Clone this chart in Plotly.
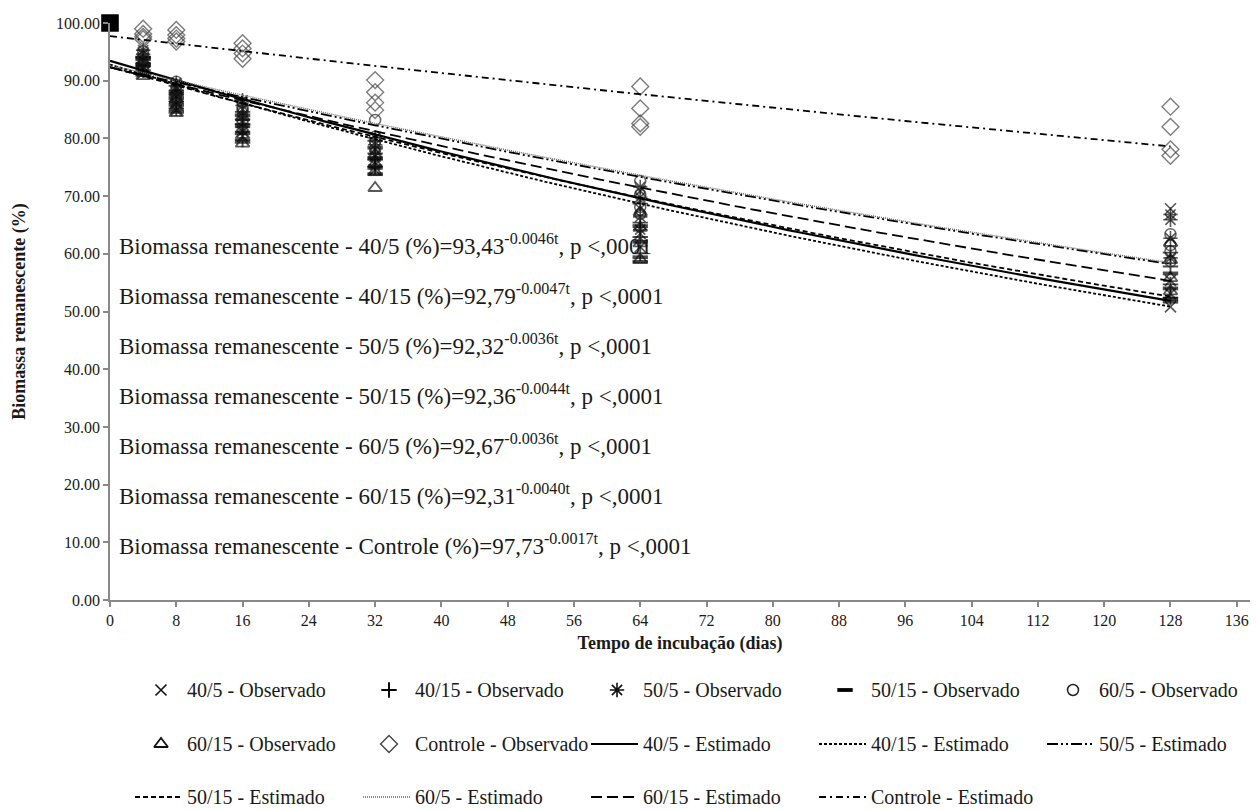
import numpy as np
import plotly.graph_objects as go

# Sampling days
dias = [0, 4, 8, 16, 32, 64, 128]

# Observed remaining biomass (%), four replicates per sampling day
obs_40_5 = [[100, 100, 100, 100], [92.1, 93.4, 94.8, 91.3], [86.0, 88.7, 84.9, 87.3],
            [81.2, 83.9, 85.1, 80.4], [75.8, 78.2, 76.9, 74.6], [63.5, 67.8, 70.9, 61.2],
            [50.8, 67.8, 55.4, 53.1]]
obs_40_15 = [[100, 100, 100, 100], [93.0, 91.8, 94.1, 92.6], [87.6, 85.2, 89.1, 86.4],
             [82.5, 84.6, 79.8, 83.3], [77.4, 75.1, 79.6, 76.3], [65.4, 60.1, 68.7, 62.9],
             [52.4, 54.7, 60.2, 57.8]]
obs_50_5 = [[100, 100, 100, 100], [94.6, 93.1, 95.3, 92.4], [89.6, 87.9, 86.2, 88.4],
            [85.7, 83.1, 86.6, 81.9], [78.9, 80.1, 77.2, 75.4], [69.8, 66.4, 71.6, 64.2],
            [65.9, 62.7, 59.3, 66.8]]
obs_50_15 = [[100, 100, 100, 100], [92.8, 91.0, 93.7, 94.0], [85.8, 87.0, 84.6, 88.1],
             [80.9, 82.2, 84.0, 79.4], [74.9, 76.6, 78.4, 73.8], [59.4, 62.1, 64.8, 58.6],
             [54.0, 52.2, 56.6, 51.7]]
obs_60_5 = [[100, 100, 100, 100], [93.9, 95.1, 92.2, 94.4], [88.9, 86.7, 89.8, 87.7],
            [84.9, 86.2, 82.9, 85.4], [83.2, 79.4, 78.1, 80.3], [72.6, 70.2, 68.1, 66.9],
            [61.5, 63.4, 58.7, 60.4]]
obs_60_15 = [[100, 100, 100, 100], [91.6, 92.9, 90.8, 93.3], [86.8, 84.4, 85.5, 88.0],
             [81.6, 79.1, 83.7, 80.6], [71.4, 75.6, 77.1, 74.2], [61.8, 64.5, 59.0, 67.2],
             [55.8, 58.9, 53.5, 61.9]]
obs_controle = [[100, 100, 100, 100], [97.2, 98.1, 99.0, 97.6], [96.8, 97.9, 98.8, 97.3],
                [93.8, 95.6, 96.5, 94.7], [90.1, 88.0, 86.2, 84.9], [89.0, 85.2, 82.6, 82.0],
                [85.5, 82.0, 78.1, 77.0]]

# Treatments and fitted model parameters: B(t) = a * exp(-k t)
tratamentos = ["40/5", "40/15", "50/5", "50/15", "60/5", "60/15", "Controle"]
coef_a = [93.43, 92.79, 92.32, 92.36, 92.67, 92.31, 97.73]
coef_k = [0.0046, 0.0047, 0.0036, 0.0044, 0.0036, 0.0040, 0.0017]
coef_a_txt = ["93,43", "92,79", "92,32", "92,36", "92,67", "92,31", "97,73"]
coef_k_txt = ["-0.0046t", "-0.0047t", "-0.0036t", "-0.0044t", "-0.0036t", "-0.0040t", "-0.0017t"]

observados = [obs_40_5, obs_40_15, obs_50_5, obs_50_15, obs_60_5, obs_60_15, obs_controle]

x_ticks = list(range(0, 137, 8))
y_ticks = list(range(0, 101, 10))

SERIF = "Liberation Serif"
INK = "#1a1a1a"

W, H = 1256, 810
PLOT_L, PLOT_R, PLOT_T, PLOT_B = 110, 1250, 23, 600  # plot frame in pixels

marker_styles = [
    dict(symbol="x-thin-open", size=11, color="#111", line=dict(width=1.6)),
    dict(symbol="cross-thin-open", size=11, color="#000", line=dict(width=1.9)),
    dict(symbol="asterisk-open", size=12, color="#111", line=dict(width=1.6)),
    dict(symbol="line-ew-open", size=11, color="#000", line=dict(width=3.8)),
    dict(symbol="circle-open", size=11, color="#222", line=dict(width=1.5)),
    dict(symbol="triangle-up-open", size=12, color="#111", line=dict(width=1.8)),
    dict(symbol="diamond-open", size=13, color="#444", line=dict(width=1.4)),
]

line_styles = [
    dict(color="#000", width=2.2, dash="solid"),
    dict(color="#000", width=1.8, dash="3px,2px"),
    dict(color="#000", width=1.8, dash="11px,3px,2px,3px,2px,3px"),
    dict(color="#000", width=1.8, dash="5px,3px"),
    dict(color="#666", width=1.4, dash="1px,1px"),
    dict(color="#000", width=1.8, dash="11px,5px"),
    dict(color="#000", width=1.8, dash="7px,4px,2px,4px"),
]

fig = go.Figure()

# observed points (the day-0 reference weights are shown as a filled square)
for nome, obs, mk in zip(tratamentos, observados, marker_styles):
    xs, ys, sym, sz, col = [], [], [], [], []
    for d, reps in zip(dias, obs):
        for v in reps:
            xs.append(d)
            ys.append(v)
            inicial = d == dias[0]
            sym.append("square" if inicial else mk["symbol"])
            sz.append(19 if inicial else mk["size"])
            col.append("#000" if inicial else mk["color"])
    fig.add_trace(go.Scatter(
        x=xs, y=ys, mode="markers", name=f"{nome} - Observado",
        marker=dict(symbol=sym, size=sz, color=col, line=mk["line"]),
        showlegend=False, cliponaxis=False,
    ))

# fitted curves
t_fit = np.linspace(0, 128, 129)
for nome, a, k, ls in zip(tratamentos, coef_a, coef_k, line_styles):
    fig.add_trace(go.Scatter(
        x=t_fit, y=a * np.exp(-k * t_fit), mode="lines", name=f"{nome} - Estimado",
        line=ls, showlegend=False,
    ))

# Model equations written inside the plot area
eq_y = [61.6, 52.9, 44.2, 35.6, 26.9, 18.2, 9.6]
for nome, at, kt, yy in zip(tratamentos, coef_a_txt, coef_k_txt, eq_y):
    fig.add_annotation(
        x=0.8, y=yy, xref="x", yref="y", xanchor="left", yanchor="middle",
        showarrow=False,
        text=f"Biomassa remanescente - {nome} (%)={at}<sup>{kt}</sup>, p <,0001",
        font=dict(family=SERIF, size=23, color=INK),
    )

# ---- legend grid below the chart (drawn on a pixel-scaled helper axis) ----
LEG_H = 157.4
leg_rows = [H - 690, H - 744, H - 797]
leg_text_x = [185 + 228 * c for c in range(5)]
entries = ([("obs", i) for i in range(7)] + [("est", i) for i in range(7)])
for n, (kind, i) in enumerate(entries):
    r, c = divmod(n, 5)
    ty, tx = leg_rows[r], leg_text_x[c]
    if kind == "obs":
        fig.add_trace(go.Scatter(
            x=[tx - 24], y=[ty], mode="markers", marker=marker_styles[i],
            xaxis="x2", yaxis="y2", showlegend=False, hoverinfo="skip", cliponaxis=False,
        ))
        label = f"{tratamentos[i]} - Observado"
    else:
        fig.add_trace(go.Scatter(
            x=[tx - 50, tx - 3], y=[ty, ty], mode="lines", line=line_styles[i],
            xaxis="x2", yaxis="y2", showlegend=False, hoverinfo="skip",
        ))
        label = f"{tratamentos[i]} - Estimado"
    fig.add_annotation(
        x=tx, y=ty, xref="x2", yref="y2", xanchor="left", yanchor="middle",
        showarrow=False, text=label, font=dict(family=SERIF, size=20, color=INK),
    )

plot_h = H - PLOT_T
axis_font = dict(family=SERIF, size=16, color=INK)
fig.update_layout(
    width=W, height=H,
    margin=dict(l=0, r=0, t=PLOT_T, b=0),
    paper_bgcolor="white", plot_bgcolor="white",
    showlegend=False,
    xaxis=dict(
        domain=[PLOT_L / W, PLOT_R / W], anchor="y",
        range=[0, 137.6], tickvals=x_ticks, ticktext=[str(v) for v in x_ticks],
        showgrid=False, zeroline=False, showline=True, linecolor="#888", linewidth=1.5,
        ticks="outside", ticklen=5, tickcolor="#888", tickwidth=1.5,
        tickfont=axis_font, automargin=False,
        title=dict(text="<b>Tempo de incubação (dias)</b>", standoff=8,
                   font=dict(family=SERIF, size=18, color=INK)),
    ),
    yaxis=dict(
        domain=[(H - PLOT_B) / plot_h, 1], anchor="x",
        range=[0, 100], tickvals=y_ticks, ticktext=[f"{v:.2f}" for v in y_ticks],
        showgrid=False, zeroline=False, showline=True, linecolor="#888", linewidth=1.5,
        ticks="outside", ticklen=5, tickcolor="#888", tickwidth=1.5,
        tickfont=axis_font, automargin=False,
        title=dict(text="<b>Biomassa remanescente (%)</b>", standoff=26,
                   font=dict(family=SERIF, size=18, color=INK)),
    ),
    xaxis2=dict(domain=[0, 1], range=[0, W], anchor="y2", visible=False, fixedrange=True),
    yaxis2=dict(domain=[0, LEG_H / plot_h], range=[0, LEG_H], anchor="x2",
                visible=False, fixedrange=True),
)

fig.write_html("out.html")
